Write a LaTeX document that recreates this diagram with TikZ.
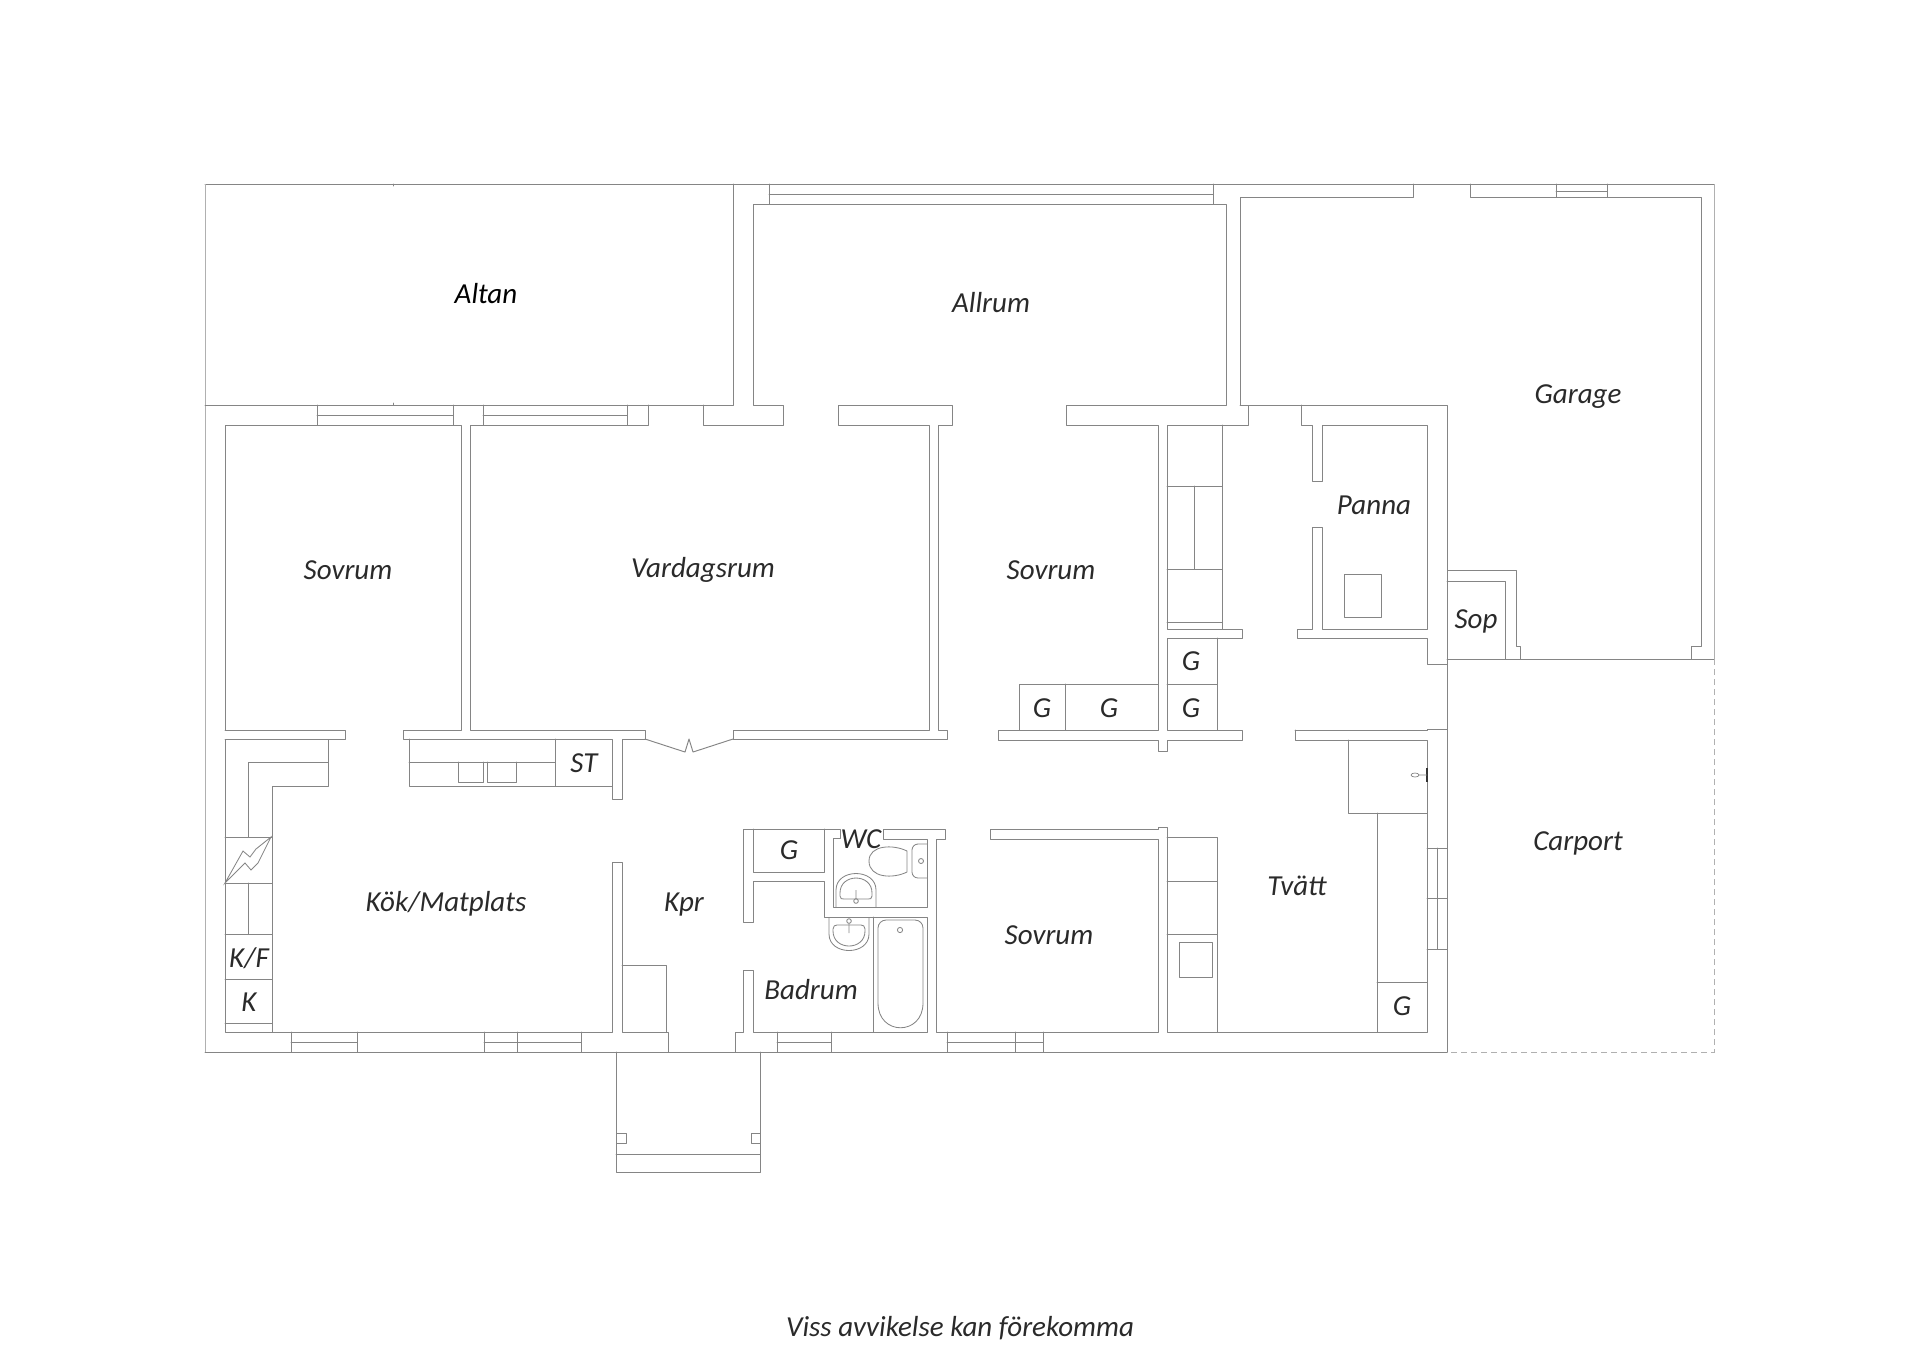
\documentclass[tikz,border=0pt]{standalone}
\usepackage{fontspec}
\setmainfont{Carlito}
\definecolor{wallc}{HTML}{858585}
\definecolor{lightc}{HTML}{B0B0B0}
\definecolor{textc}{HTML}{2A2A2A}
\tikzset{
  wall/.style={draw=wallc,line width=0.48pt,line join=round,line cap=round},
  thin wall/.style={draw=lightc,line width=0.45pt},
  fixture/.style={draw=wallc,line width=0.42pt},
  room/.style={text=textc,font=\fontsize{14.5pt}{17pt}\selectfont\itshape,inner sep=0pt},
}
\begin{document}
\begin{tikzpicture}[x=0.5pt,y=-0.5pt]
\useasboundingbox (0,0) rectangle (1920,1357);
% outer shell
\draw[wall] (205,184)--(1714,184);
\draw[thin wall] (1714,184)--(1714,659);
\draw[thin wall] (205,184)--(205,1052);
\draw[wall] (205,1052)--(1447,1052);
\draw[wall] (205,405)--(733,405)--(733,184);
\draw[wall] (393,184)--(393,186) (393,403)--(393,405);
% windows north
\draw[wall] (317,405)--(317,425) (453,405)--(453,425) (317,415)--(453,415);
\draw[wall] (483,405)--(483,425) (627,405)--(627,425) (483,415)--(627,415);
\draw[wall] (769,184)--(769,204) (1213,184)--(1213,204) (769,194)--(1213,194);
\draw[wall] (1556,184)--(1556,197) (1607,184)--(1607,197) (1556,191)--(1607,191);
% bedroom and living room
\draw[wall] (225,730)--(225,425)--(461,425)--(461,730)--(403,730)--(403,739)--(612,739)--(612,799)--(622,799)--(622,739)--(645,739)--(645,730)--(470,730)--(470,425)--(648,425)--(648,405);
\draw[wall] (225,730)--(345,730)--(345,739)--(225,739)--(225,1032)--(612,1032)--(612,862)--(622,862)--(622,1032)--(668,1032)--(668,1052);
\draw[wall] (645,739)--(685,752)--(689,739)--(693,752)--(733,739);
\draw[wall] (733,739)--(733,730)--(929,730)--(929,425)--(838,425)--(838,405)--(952,405)--(952,425)--(938,425)--(938,730)--(947,730)--(947,739)--(733,739);
% allrum and central wall
\draw[wall] (703,405)--(703,425)--(783,425)--(783,405)--(753,405)--(753,204)--(1226,204)--(1226,405)--(1066,405)--(1066,425)--(1158,425)--(1158,730)--(998,730)--(998,740)--(1158,740)--(1158,751)--(1167,751)--(1167,740)--(1242,740)--(1242,730)--(1167,730)--(1167,638)--(1242,638)--(1242,629)--(1167,629)--(1167,425)--(1248,425)--(1248,405)--(1240,405)--(1240,197)--(1413,197)--(1413,184);
\draw[wall] (1470,184)--(1470,197)--(1701,197)--(1701,646)--(1691,646)--(1691,659);
% closets
\draw[wall] (1222,425)--(1222,629) (1167,486)--(1222,486) (1167,569)--(1222,569) (1194,486)--(1194,569) (1167,622)--(1222,622);
\draw[wall] (1217,638)--(1217,730) (1167,684)--(1217,684) (1019,730)--(1019,684)--(1158,684) (1065,684)--(1065,730);
% panna, sop
\draw[wall] (1240,405)--(1447,405)--(1447,570)--(1516,570)--(1516,646)--(1520,646)--(1520,659);
\draw[wall] (1301,405)--(1301,425)--(1312,425)--(1312,481)--(1322,481)--(1322,425)--(1427,425)--(1427,629)--(1322,629)--(1322,527)--(1312,527)--(1312,629)--(1297,629)--(1297,638)--(1427,638)--(1427,664)--(1447,664);
\draw[wall] (1344,574) rectangle (1381,617);
\draw[wall] (1447,570)--(1447,1052) (1447,581)--(1505,581)--(1505,659) (1447,659)--(1714,659);
% carport
\draw[thin wall,densely dashed] (1714,659)--(1714,1052)--(1447,1052);
% tvatt
\draw[wall] (1295,730)--(1295,740)--(1427,740)--(1427,1032)--(1167,1032)--(1167,827)--(1158,827)--(1158,829)--(990,829)--(990,839)--(1158,839)--(1158,1032)--(936,1032)--(936,839)--(945,839)--(945,829)--(883,829)--(883,839)--(927,839)--(927,907)--(833,907)--(833,838)--(840,838)--(840,829)--(743,829)--(743,922)--(753,922)--(753,881)--(824,881)--(824,917)--(927,917)--(927,1032)--(753,1032)--(753,970)--(743,970)--(743,1032)--(735,1032)--(735,1052);
\draw[wall] (1295,730)--(1427,730)--(1427,729)--(1447,729);
\draw[wall] (753,829)--(753,872)--(824,872)--(824,829);
\draw[wall] (1167,837)--(1217,837)--(1217,1032) (1167,881)--(1217,881) (1167,934)--(1217,934);
\draw[wall] (1179,942) rectangle (1212,977);
\draw[wall] (1348,740)--(1348,813)--(1427,813) (1377,813)--(1377,1032) (1377,982)--(1427,982);
\draw[wall] (1427,848)--(1447,848) (1427,898)--(1447,898) (1427,949)--(1447,949) (1437,848)--(1437,949);
\draw[draw=black!80,line width=0.8pt] (1427,768)--(1427,782);
\draw[fixture,line width=0.35pt] (1415,775) ellipse [x radius=4,y radius=2] (1419,775)--(1427,775);
% south windows
\draw[wall] (291,1032)--(291,1052) (357,1032)--(357,1052) (291,1042)--(357,1042);
\draw[wall] (484,1032)--(484,1052) (517,1032)--(517,1052) (581,1032)--(581,1052) (484,1042)--(581,1042);
\draw[wall] (777,1032)--(777,1052) (831,1032)--(831,1052) (777,1042)--(831,1042);
\draw[wall] (947,1032)--(947,1052) (1015,1032)--(1015,1052) (1043,1032)--(1043,1052) (947,1042)--(1043,1042);
% hall box and entrance
\draw[wall] (622,965)--(666,965)--(666,1032);
\draw[wall] (616,1052)--(616,1172)--(760,1172)--(760,1052) (616,1154)--(760,1154);
\draw[wall] (616,1133) rectangle (626,1143) (751,1133) rectangle (760,1143);
% kitchen
\draw[wall] (225,739)--(328,739)--(328,786)--(272,786)--(272,1032) (328,762)--(248,762)--(248,837);
\draw[wall] (225,837)--(272,837) (225,883)--(272,883) (248,883)--(248,934) (225,934)--(272,934) (225,979)--(272,979) (225,1023)--(272,1023);
\draw[fixture] (225,883)--(243,851)--(250,857)--(256,849)--(271,837)--(258,863)--(251,870)--(245,863)--cycle;
\draw[wall] (409,739)--(409,786)--(612,786) (409,762)--(555,762) (555,739)--(555,786);
\draw[wall] (458,762)--(458,782)--(483,782)--(483,762) (487,762)--(487,782)--(516,782)--(516,762);
% bath
\draw[wall] (873,917)--(873,1032);
\draw[fixture,rounded corners=4pt] (878,1003)--(878,920)--(923,920)--(923,1003);
\draw[fixture] (923,1003) .. controls (923,1036) and (878,1036) .. (878,1003);
\draw[fixture] (900,930) circle [radius=2.6];
% wc sink
\draw[fixture] (836,907)--(836,890) .. controls (836,868) and (876,868) .. (876,890)--(876,907);
\draw[fixture] (840,893) .. controls (840,873) and (872,873) .. (872,893)--(872,896) .. controls (872,899) and (870,899) .. (868,899)--(844,899) .. controls (842,899) and (840,899) .. (840,896)--cycle;
\draw[fixture] (856,890)--(856,899) (856,901) circle [radius=2.3];
% bathroom sink
\draw[fixture] (829,917)--(829,934) .. controls (829,956) and (869,956) .. (869,934)--(869,917);
\draw[fixture] (833,931) .. controls (833,951) and (865,951) .. (865,931)--(865,929) .. controls (865,926) and (863,925) .. (861,925)--(837,925) .. controls (835,925) and (833,926) .. (833,929)--cycle;
\draw[fixture] (849,923)--(849,933) (849,921) circle [radius=2.3];
% toilet
\draw[fixture,rounded corners=3pt] (927,844)--(912,844)--(912,878)--(927,878);
\draw[fixture] (921,861) circle [radius=2.5];
\draw[fixture] (907,851) .. controls (893,844) and (869,845) .. (869,861) .. controls (869,878) and (893,879) .. (907,872)--cycle;
% labels
\node[room,text=black] (altan) at (486,294) {Altan};
\node[room] (allrum) at (991,303) {Allrum};
\node[room] (garage) at (1578,397) {Garage};
\node[room] (panna) at (1374,505) {Panna};
\node[room] (sov1) at (348,570) {Sovrum};
\node[room] (vard) at (703,570) {Vardagsrum};
\node[room] (sov2) at (1051,570) {Sovrum};
\node[room] (sop) at (1476,621) {Sop};
\node[room] (st) at (584,763) {ST};
\node[room] (g1) at (1191,661) {G};
\node[room] (g2) at (1191,708) {G};
\node[room] (g3) at (1042,708) {G};
\node[room] (g4) at (1109,708) {G};
\node[room] (carport) at (1578,843) {Carport};
\node[room] (wc) at (861,839) {WC};
\node[room] (tvatt) at (1297,886) {Tvätt};
\node[room] (kok) at (446,904) {Kök/Matplats};
\node[room] (kpr) at (684,905) {Kpr};
\node[room] (g5) at (789,850) {G};
\node[room] (kf) at (249,958) {K/F};
\node[room] (k) at (249,1002) {K};
\node[room] (sov3) at (1049,935) {Sovrum};
\node[room] (badrum) at (811,990) {Badrum};
\node[room] (g6) at (1402,1006) {G};
\node[room] (note) at (960,1328) {Viss avvikelse kan förekomma};
\end{tikzpicture}
\end{document}
